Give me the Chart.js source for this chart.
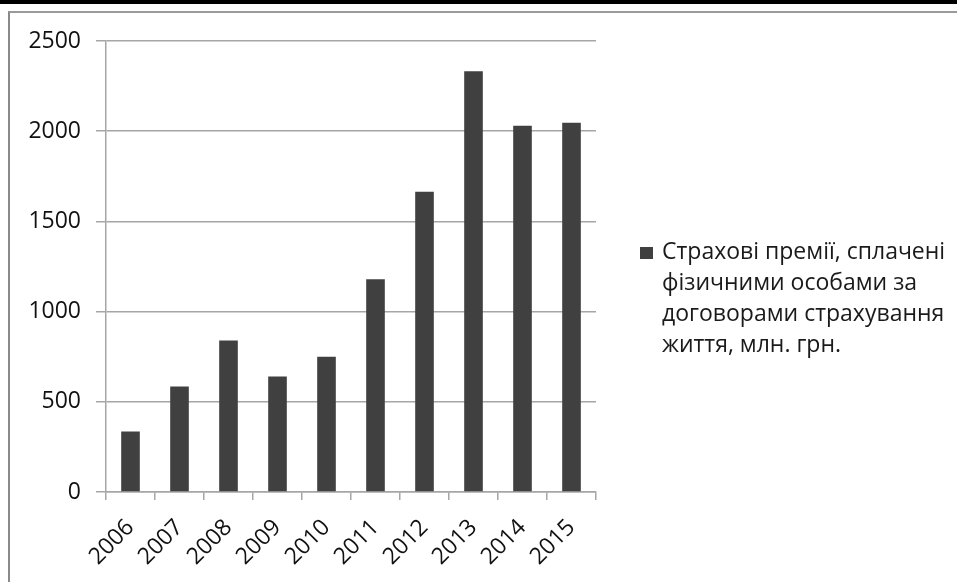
<!DOCTYPE html>
<html>
<head>
<meta charset="utf-8">
<script src="https://cdn.jsdelivr.net/npm/chart.js@4/dist/chart.umd.min.js"></script>
<style>
  body { margin: 0; background: #fff; }
  #wrap { position: relative; width: 957px; height: 582px; overflow: hidden; }
  #topbar { position: absolute; left: 0; top: 0; width: 957px; height: 4px; background: #000; }
  #frame { position: absolute; left: 8px; top: 11px; width: 960px; height: 600px;
           border-left: 2px solid #8a8a8a; border-top: 2px solid #9a9a9a; }
  canvas { position: absolute; left: 0; top: 0; }
</style>
</head>
<body>
<div id="wrap">
  <div id="topbar"></div>
  <div id="frame"></div>
  <canvas id="myChart" width="957" height="582"></canvas>
</div>
<script>
// ********** data ************
const years = ["2006", "2007", "2008", "2009", "2010", "2011", "2012", "2013", "2014", "2015"];
const premiums = [335, 585, 840, 640, 750, 1180, 1665, 2332, 2030, 2047];
const seriesLabel = ["Страхові премії, сплачені", "фізичними особами за", "договорами страхування", "життя, млн. грн."];

const fontFamily = "'Open Sans', 'DejaVu Sans', sans-serif";
const gridColor = "#a6a6a6";

// ********** legend drawn by hand (multi-line) ************
const sideLegend = {
  id: "sideLegend",
  afterDraw(chart) {
    const c = chart.ctx;
    const x = chart.chartArea.right + 44;
    c.save();
    c.fillStyle = "#404040";
    c.fillRect(x, 247, 13, 12);
    c.fillStyle = "#1a1a1a";
    c.font = "23px " + fontFamily;
    c.textBaseline = "middle";
    seriesLabel.forEach((line, i) => {
      c.fillText(line, x + 22, 252 + i * 31);
    });
    c.restore();
  },
};

const ctx = document.getElementById("myChart");
const myChart = new Chart(ctx, {
  type: "bar",
  data: {
    labels: years,
    datasets: [
      {
        label: seriesLabel.join(" "),
        data: premiums,
        backgroundColor: "#404040",
        borderWidth: 0,
        categoryPercentage: 1,
        barPercentage: 0.38,
      },
    ],
  },
  options: {
    responsive: false,
    animation: false,
    layout: { padding: { left: 0, top: 41, right: 361, bottom: 0 } },
    plugins: {
      legend: { display: false },
      tooltip: { enabled: false },
    },
    scales: {
      x: {
        grid: {
          offset: true,
          drawOnChartArea: false,
          drawTicks: true,
          tickLength: 8,
          color: gridColor,
          lineWidth: 1.5,
        },
        border: { color: gridColor, width: 1.5 },
        ticks: {
          color: "#111",
          font: { family: fontFamily, size: 23 },
          minRotation: 45,
          maxRotation: 45,
          padding: 14,
        },
        afterFit(scale) {
          scale.height = 90;
        },
      },
      y: {
        min: 0,
        max: 2500,
        grid: {
          color: gridColor,
          lineWidth: 1.5,
          tickLength: 10,
        },
        border: { color: gridColor, width: 1.5 },
        ticks: {
          stepSize: 500,
          color: "#111",
          font: { family: fontFamily, size: 23 },
          padding: 15,
          callback: (v) => String(v),
        },
        afterFit(scale) {
          scale.width = 106;
        },
      },
    },
  },
  plugins: [sideLegend],
});
</script>
</body>
</html>
